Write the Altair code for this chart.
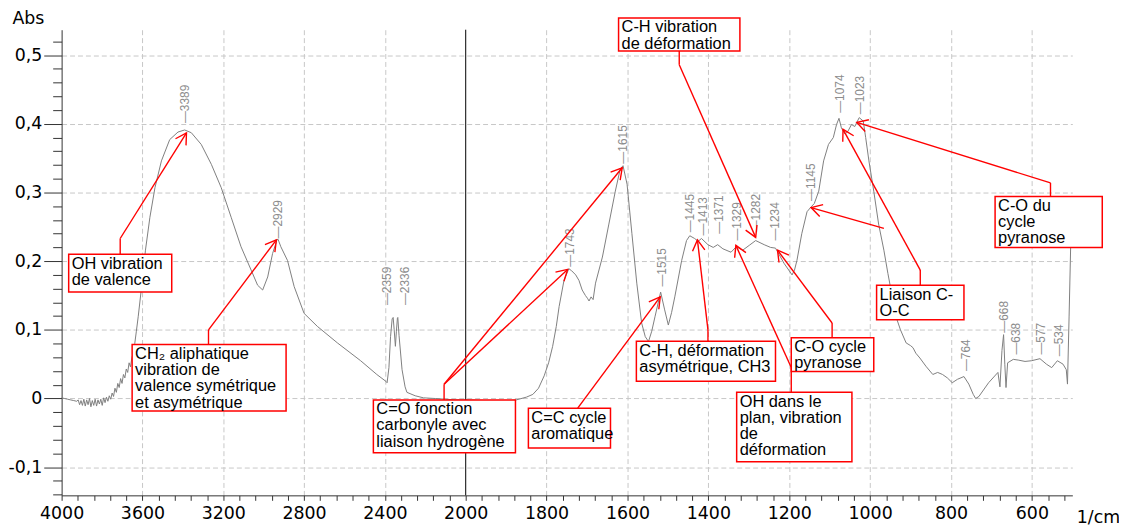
import math
import altair as alt
import pandas as pd

# ---------------- spectrum ----------------
wavenumber = [
    4000, 3985, 3970, 3955, 3940, 3925, 3918, 3911, 3904, 3897, 3890, 3883, 3876, 3869,
    3862, 3855, 3848, 3841, 3834, 3827, 3820, 3813, 3806, 3799, 3792, 3785, 3778, 3771,
    3764, 3757, 3750, 3743, 3736, 3729, 3722, 3715, 3708, 3701, 3694, 3687, 3680, 3673,
    3666, 3659, 3652, 3645, 3638, 3630, 3621, 3604, 3585, 3563, 3538, 3506, 3465, 3424,
    3391, 3358, 3309, 3259, 3210, 3161, 3112, 3062, 3030, 3005, 2980, 2956, 2934, 2929,
    2915, 2882, 2849, 2800, 2734, 2635, 2520, 2440, 2395, 2389, 2380, 2372, 2364, 2359,
    2354, 2348, 2343, 2338, 2336, 2330, 2315, 2300, 2291, 2250, 2209, 2150, 2100, 2050,
    2000, 1950, 1900, 1875, 1850, 1834, 1820, 1806, 1795, 1785, 1776, 1769, 1757, 1745,
    1738, 1728, 1720, 1712, 1704, 1699, 1695, 1690, 1685, 1679, 1662, 1646, 1630, 1618,
    1611, 1601, 1589, 1577, 1565, 1556, 1548, 1540, 1532, 1518, 1508, 1499, 1491, 1483,
    1466, 1454, 1446, 1434, 1425, 1417, 1401, 1388, 1377, 1364, 1344, 1331, 1315, 1299,
    1283, 1262, 1246, 1234, 1213, 1193, 1187, 1181, 1169, 1156, 1146, 1138, 1127, 1115,
    1103, 1091, 1083, 1077, 1071, 1062, 1055, 1046, 1038, 1027, 1017, 1011, 1003, 991,
    979, 966, 956, 936, 925, 911, 900, 894, 887, 877, 862, 845, 833, 821, 809, 797, 784,
    768, 756, 745, 739, 731, 707, 684, 679, 674, 670, 667, 664, 660, 646, 634, 617, 601,
    580, 564, 551, 537, 523, 515, 512, 508, 504,
]
absorbance = [
    0.001, 0.000, -0.001, -0.002, -0.003, -0.004, -0.002, -0.009, -0.003, -0.010, -0.001, -0.011, -0.002, -0.009,
    0.000, -0.012, -0.003, -0.010, -0.001, -0.011, -0.002, -0.008, -0.001, -0.010, 0.001, -0.006, 0.002, -0.004,
    0.004, -0.001, 0.008, 0.003, 0.015, 0.009, 0.022, 0.016, 0.029, 0.022, 0.035, 0.030, 0.043, 0.038,
    0.052, 0.046, 0.060, 0.066, 0.080, 0.098, 0.119, 0.163, 0.216, 0.264, 0.307, 0.346, 0.377, 0.388,
    0.391, 0.387, 0.370, 0.341, 0.307, 0.264, 0.221, 0.187, 0.165, 0.158, 0.177, 0.211, 0.231, 0.232,
    0.221, 0.201, 0.163, 0.124, 0.105, 0.081, 0.055, 0.035, 0.025, 0.023, 0.045, 0.090, 0.116, 0.118,
    0.100, 0.076, 0.098, 0.117, 0.118, 0.092, 0.042, 0.017, 0.009, 0.004, 0.001, 0.000, -0.001, -0.002,
    -0.002, -0.003, -0.004, -0.002, 0.002, 0.006, 0.015, 0.033, 0.052, 0.076, 0.105, 0.134, 0.172, 0.189,
    0.186, 0.180, 0.172, 0.158, 0.150, 0.146, 0.142, 0.148, 0.144, 0.168, 0.206, 0.254, 0.302, 0.334,
    0.339, 0.312, 0.240, 0.168, 0.110, 0.090, 0.083, 0.098, 0.119, 0.155, 0.129, 0.107, 0.125, 0.148,
    0.201, 0.230, 0.237, 0.233, 0.229, 0.233, 0.224, 0.220, 0.224, 0.218, 0.213, 0.221, 0.216, 0.223,
    0.230, 0.224, 0.220, 0.219, 0.197, 0.180, 0.187, 0.201, 0.240, 0.272, 0.279, 0.284, 0.302, 0.346,
    0.370, 0.380, 0.399, 0.408, 0.394, 0.385, 0.389, 0.399, 0.396, 0.409, 0.404, 0.380, 0.346, 0.302,
    0.254, 0.216, 0.182, 0.119, 0.100, 0.081, 0.077, 0.074, 0.066, 0.059, 0.047, 0.035, 0.038, 0.035, 0.030, 0.023, 0.028,
    0.032, 0.021, 0.006, 0.000, 0.003, 0.023, 0.038, 0.017, 0.070, 0.093, 0.050, 0.016, 0.052, 0.057, 0.056, 0.054, 0.055,
    0.058, 0.050, 0.045, 0.055, 0.050, 0.042, 0.021, 0.120, 0.225,
]

# ---------------- peak labels ----------------
peak_wn = [3389, 2929, 2388, 2301, 1742, 1611, 1515, 1445, 1414, 1373, 1330, 1283, 1235,
           1146, 1074.5, 1024, 763, 668, 639, 578, 534]
peak_abs = [0.401, 0.233, 0.136, 0.136, 0.192, 0.342, 0.163, 0.242, 0.2375, 0.240, 0.230,
            0.242, 0.230, 0.2877, 0.416, 0.414, 0.040, 0.0959, 0.064, 0.064, 0.0616]
peak_text = ["3389", "2929", "2359", "2336", "1743", "1615", "1515", "1445", "1413", "1371",
             "1329", "1282", "1234", "1145", "1074", "1023", "764", "668", "638", "577", "534"]

# ---------------- annotation boxes ----------------
box_text = [
    "OH vibration\nde valence",
    "CH\u2082 aliphatique\nvibration de\nvalence symétrique\net asymétrique",
    "C=O fonction\ncarbonyle avec\nliaison hydrogène",
    "C=C cycle\naromatique",
    "C-H, déformation\nasymétrique, CH3",
    "OH dans le\nplan, vibration\nde\ndéformation",
    "C-O cycle\npyranose",
    "Liaison C-\nO-C",
    "C-O du\ncycle\npyranose",
    "C-H vibration\nde déformation",
]
box_left = [3965, 3651, 2457, 1845, 1578, 1330, 1195, 984, 691, 1622]
box_right = [3455, 2889, 1877, 1642, 1234, 1045, 991, 768, 426, 1322]
box_top = [0.210, 0.0785, -0.002, -0.014, 0.0833, 0.009, 0.0886, 0.165, 0.294, 0.554]
box_bottom = [0.155, -0.018, -0.079, -0.072, 0.025, -0.092, 0.0395, 0.1146, 0.220, 0.506]

# arrows: polylines (wavenumber, absorbance), last point = arrow tip
arrow_paths = [
    [(3710, 0.210), (3710, 0.233), (3382, 0.3867)],
    [(3273, 0.0785), (3273, 0.100), (2937, 0.231)],
    [(2107, -0.002), (2107, 0.0207), (1748, 0.188)],
    [(2107, 0.0207), (1613, 0.336)],
    [(1723, -0.014), (1519, 0.148)],
    [(1401, 0.0833), (1401, 0.100), (1427, 0.231)],
    [(1195, 0.009), (1195, 0.0452), (1332, 0.223)],
    [(1094, 0.0886), (1094, 0.110), (1229, 0.216)],
    [(876, 0.165), (876, 0.187), (1067, 0.392)],
    [(554, 0.294), (554, 0.314), (1033, 0.402)],
    [(1472, 0.506), (1472, 0.486), (1283, 0.2346)],
    [(966, 0.2477), (1146, 0.278)],
]

# ---------------- axes ----------------
x_major = [4000, 3600, 3200, 2800, 2400, 2000, 1800, 1600, 1400, 1200, 1000, 800, 600]
x_grid = [v for v in x_major if v not in (4000, 2000)]
x_ticks = sorted(set(list(range(4000, 1999, -80)) + list(range(2000, 519, -40)) + x_major),
                 reverse=True)
y_ticks = [round(-0.14 + 0.02 * i, 2) for i in range(34)]

X_DOMAIN = [4000, 2000, 500]
X_RANGE = [0, 407, 1018]
Y_DOMAIN = [-0.141, 0.537]
W, H = 1018, 469

x_scale = alt.Scale(domain=X_DOMAIN, range=X_RANGE, nice=False, zero=False)
y_scale = alt.Scale(domain=Y_DOMAIN, nice=False, zero=False)

major_list = "[" + ",".join(str(v) for v in x_major) + "]"
grid_list = "[" + ",".join(str(v) for v in x_grid) + "]"
x_axis = alt.Axis(
    values=x_ticks,
    labelExpr=f"indexof({major_list}, datum.value) >= 0 ? '' + datum.value : ''",
    labelOverlap=False, labelFlush=False, labelBound=False,
    labelFont="DejaVu Sans", labelFontSize=17.5, labelColor="black", labelPadding=4,
    tickSize=5, tickColor="#333333", domainColor="#333333",
    grid=True, gridColor="#c8c8c8", gridDash=[5, 3], gridWidth=1,
    gridOpacity={"condition": {"test": f"indexof({grid_list}, datum.value) >= 0", "value": 1}, "value": 0},
    title="1/cm", titleFont="DejaVu Sans", titleFontSize=17.5, titleFontWeight="normal",
    titleColor="black", titleAngle=0, titleAlign="left", titleBaseline="middle",
    titleX=1022, titleY=22,
)
is_major_y = "abs(datum.value*10 - round(datum.value*10)) < 0.001"
y_axis = alt.Axis(
    values=y_ticks,
    labelExpr=(f"{is_major_y} ? (abs(datum.value) < 0.001 ? '0' : "
               "replace(replace(format(datum.value, '.1f'), '.', ','), '\u2212', '-')) : ''"),
    labelOverlap=False, labelFlush=False, labelBound=False,
    labelFont="DejaVu Sans", labelFontSize=17.5, labelColor="black", labelPadding=2,
    tickSize={"condition": {"test": is_major_y, "value": 18}, "value": 9},
    tickColor="#333333", domainColor="#333333",
    grid=True, gridColor="#c8c8c8", gridDash=[5, 3], gridWidth=1,
    gridOpacity={"condition": {"test": is_major_y, "value": 1}, "value": 0},
    title="Abs", titleFont="DejaVu Sans", titleFontSize=17.5, titleFontWeight="normal",
    titleColor="black", titleAngle=0, titleAlign="left", titleBaseline="middle",
    titleX=-50, titleY=-11,
)


def to_px(wn, a):
    """pixel position inside the plot, used only to orient arrow heads"""
    if wn >= 2000:
        x = (4000 - wn) / 2000 * 407
    else:
        x = 407 + (2000 - wn) / 1500 * 611
    y = (Y_DOMAIN[1] - a) / (Y_DOMAIN[1] - Y_DOMAIN[0]) * H
    return x, y


seg_rows, head_rows = [], []
for path in arrow_paths:
    for (x0, y0), (x1, y1) in zip(path[:-1], path[1:]):
        seg_rows.append({"wn": x0, "a": y0, "wn2": x1, "a2": y1})
    (xa, ya), (xb, yb) = path[-2], path[-1]
    pa, pb = to_px(xa, ya), to_px(xb, yb)
    dx, dy = pb[0] - pa[0], pb[1] - pa[1]
    ang = math.degrees(math.atan2(dx, -dy)) % 360
    head_rows.append({"wn": xb, "a": yb, "ang": ang})

spec_df = pd.DataFrame({"wn": wavenumber, "a": absorbance})
peak_df = pd.DataFrame({"wn": peak_wn, "a": peak_abs, "t": ["\u2014" + t for t in peak_text]})
box_df = pd.DataFrame({"wn": box_left, "wn2": box_right, "a": box_top, "a2": box_bottom,
                       "label": box_text})
seg_df = pd.DataFrame(seg_rows)
head_df = pd.DataFrame(head_rows)

RED = "#ff0000"
ARROW = "M -0.577 1 L 0 0 L 0.577 1"

X = alt.X("wn:Q", scale=x_scale, axis=x_axis)
Y = alt.Y("a:Q", scale=y_scale, axis=y_axis)

line = alt.Chart(spec_df).mark_line(color="#7f7f7f", strokeWidth=1).encode(x=X, y=Y)
rule2000 = alt.Chart(pd.DataFrame({"wn": [2000]})).mark_rule(color="black", strokeWidth=1).encode(x=X)
segs = alt.Chart(seg_df).mark_rule(color=RED, strokeWidth=1.4).encode(
    x=X, x2="wn2:Q", y=Y, y2="a2:Q",
)
boxes = alt.Chart(box_df).mark_rect(fill="white", stroke=RED, strokeWidth=1.5).encode(
    x=X, x2="wn2:Q", y=Y, y2="a2:Q",
)
box_txt = alt.Chart(box_df).mark_text(
    align="left", baseline="top", font="Liberation Sans", fontSize=16.5, lineHeight=16.3,
    lineBreak="\n", dx=3, dy=1.5, color="black",
).encode(x=X, y=Y, text="label:N")
peaks = alt.Chart(peak_df).mark_text(
    angle=270, align="left", baseline="middle", font="Liberation Sans", fontSize=12,
    color="#8c8c8c",
).encode(x=X, y=Y, text="t:N")
heads = alt.Chart(head_df).mark_point(
    shape=ARROW, filled=False, size=470, strokeWidth=1.4, color=RED, opacity=1,
).encode(x=X, y=Y, angle=alt.Angle("ang:Q", scale=None))

chart = alt.layer(line, rule2000, peaks, segs, heads, boxes, box_txt).properties(
    width=W, height=H,
    autosize=alt.AutoSizeParams(type="none"),
    padding={"left": 54, "top": 20, "right": 47, "bottom": 30},
).configure_view(stroke=None)

chart.save("out.html", embed_options={"renderer": "svg", "actions": False})
